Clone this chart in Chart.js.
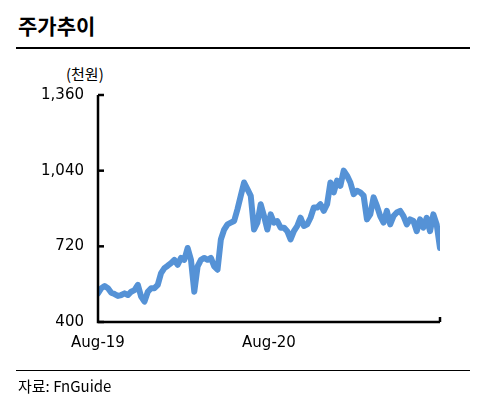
<!DOCTYPE html>
<html><head><meta charset="utf-8">
<script src="https://cdn.jsdelivr.net/npm/chart.js@4/dist/chart.umd.min.js"></script>
<style>
body{margin:0;background:#fff;font-family:"Noto Sans CJK KR","DejaVu Sans",sans-serif;}
#wrap{position:relative;width:485px;height:414px;}
canvas{position:absolute;left:0;top:0;}
.t{position:absolute;left:18px;top:10px;font-size:21px;font-weight:bold;color:#000;}
.l1{position:absolute;left:16px;top:47px;width:454px;height:2px;background:#000;}
.l2{position:absolute;left:16px;top:370px;width:454px;height:1px;background:#000;}
.src{position:absolute;left:18px;top:375px;font-size:15px;color:#000;}
.unit{position:absolute;left:66px;top:63px;font-size:15px;color:#000;}
</style></head><body>
<div id="wrap">
<div class="t">주가추이</div><div class="l1"></div>
<div class="unit">(천원)</div>
<canvas id="c" width="485" height="414"></canvas>
<div class="l2"></div><div class="src">자료: FnGuide</div>
</div>
<script>
const prices=[521,543,552,543,524,518,510,514,521,514,528,535,557,507,486,528,543,543,557,607,628,638,649,663,642,671,663,713,663,528,635,663,671,663,671,635,621,749,791,813,820,827,877,934,990,962,934,791,820,898,848,791,855,820,827,799,799,784,749,784,806,841,806,813,841,884,884,898,870,898,990,948,998,976,1040,1019,990,941,955,948,934,834,855,927,891,848,820,870,813,848,863,870,848,813,834,827,784,834,799,841,784,855,813,713];
const xTickPos=[0,51.5];
const xTickLabels=['Aug-19','Aug-20'];
const yTicks=[400,720,1040,1360];
const pts=prices.map((v,i)=>({x:i,y:v}));
const inTicks={id:'inTicks',afterDraw(ch){const c=ch.ctx,a=ch.chartArea,y=ch.scales.y;c.save();c.strokeStyle='#000';c.lineWidth=2.5;
yTicks.forEach(v=>{const p=y.getPixelForValue(v);c.beginPath();c.moveTo(a.left,p);c.lineTo(a.left+6,p);c.stroke();});
c.beginPath();c.moveTo(a.left,a.top);c.lineTo(a.left,a.bottom);c.lineTo(a.right,a.bottom);c.stroke();
c.beginPath();c.moveTo(a.right,a.bottom);c.lineTo(a.right,a.bottom-5);c.stroke();c.restore();}};
new Chart(document.getElementById('c'),{type:'line',
data:{datasets:[{data:pts,borderColor:'#5592d6',borderWidth:6,pointRadius:0,tension:0,borderJoinStyle:'round',borderCapStyle:'round'}]},
options:{responsive:false,animation:false,layout:{padding:{left:0,top:95,right:45,bottom:62}},
plugins:{legend:{display:false},tooltip:{enabled:false}},
scales:{
x:{type:'linear',min:0,max:prices.length-1,afterFit(s){s.height=30;},afterBuildTicks(s){s.ticks=xTickPos.map(v=>({value:v}));},
ticks:{autoSkip:false,maxRotation:0,color:'#000',font:{size:15,family:'"DejaVu Sans"'},padding:4,callback:(v,i)=>xTickLabels[i]},
grid:{display:false},border:{display:false}},
y:{min:400,max:1360,afterFit(s){s.width=98;},afterBuildTicks(s){s.ticks=yTicks.map(v=>({value:v}));},
ticks:{color:'#000',font:{size:15,family:'"DejaVu Sans"'},padding:6,callback:v=>v.toLocaleString('en-US')},
grid:{display:false},border:{display:false}}}},
plugins:[inTicks]});
</script></body></html>
